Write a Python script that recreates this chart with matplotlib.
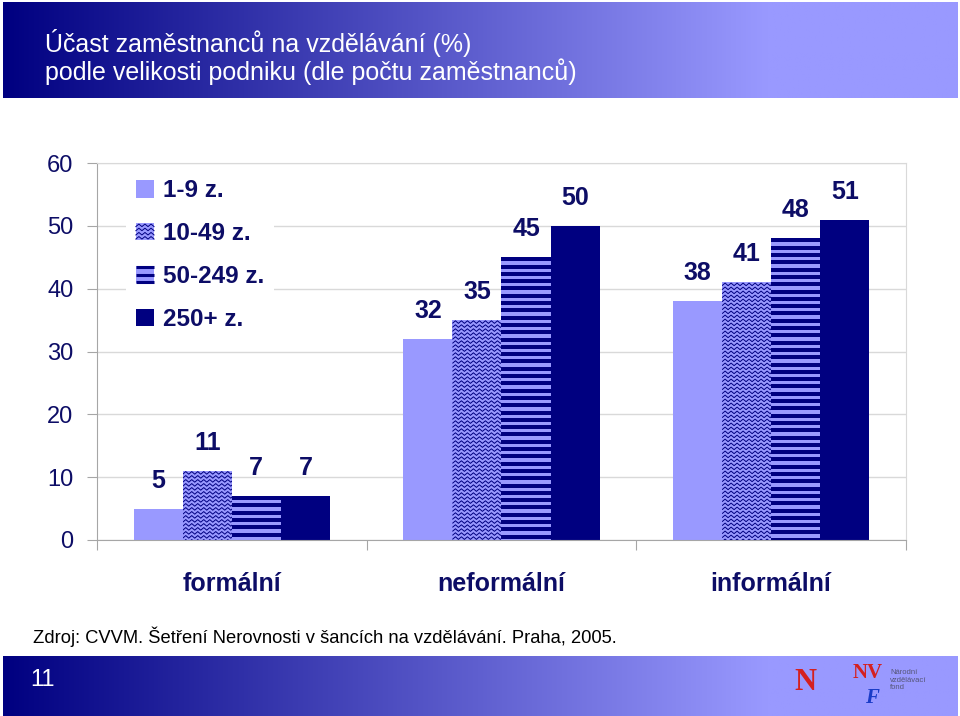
import numpy as np
import matplotlib
matplotlib.use("Agg")
import matplotlib.pyplot as plt
from matplotlib.collections import LineCollection
from matplotlib.patches import Rectangle, Patch
from matplotlib.legend_handler import HandlerBase

categories = ["formální", "neformální", "informální"]
sizes = ["1-9 z.", "10-49 z.", "50-249 z.", "250+ z."]
v_small = [5, 32, 38]
v_medium = [11, 35, 41]
v_large = [7, 45, 48]
v_xlarge = [7, 50, 51]
yticks = [0, 10, 20, 30, 40, 50, 60]

title_lines = ["Účast zaměstnanců na vzdělávání (%)",
               "podle velikosti podniku (dle počtu zaměstnanců)"]
source = "Zdroj: CVVM. Šetření Nerovnosti v šancích na vzdělávání. Praha, 2005."
page_no = "11"

NAVY = "#000080"
LIGHT = "#9999ff"
TEXT = "#0d0d66"
GRID = "#d9d9d9"
AXIS = "#a6a6a6"

narrow = ["Liberation Sans Narrow", "Liberation Sans", "DejaVu Sans"]
plt.rcParams["font.family"] = ["Liberation Sans", "DejaVu Sans"]

fig = plt.figure(figsize=(9.6, 7.16), dpi=100)


def gradient_band(rect):
    bax = fig.add_axes(rect)
    t = np.clip(np.linspace(0, 1, 400) / 0.8, 0, 1)
    c0 = np.array([0, 0, 128]) / 255
    c1 = np.array([153, 153, 255]) / 255
    row = c0[None, :] * (1 - t[:, None]) + c1[None, :] * t[:, None]
    bax.imshow(row[None, :, :], aspect="auto", extent=(0, 1, 0, 1))
    bax.set_xlim(0, 1)
    bax.set_ylim(0, 1)
    bax.set_axis_off()
    return bax


# header band with title
gradient_band([3 / 960, 1 - 98 / 716, 954 / 960, 96 / 716])
for line, ypx in zip(title_lines, [43, 72]):
    fig.text(45 / 960, 1 - ypx / 716, line, color="white", fontsize=18,
             va="center", ha="left")

# main chart
ax = fig.add_axes([97 / 960, 1 - 540 / 716, 809 / 960, 377 / 716])
ax.set_xlim(-0.5, len(categories) - 0.5)
ax.set_ylim(0, 60)
ax.set_axisbelow(True)
ax.yaxis.grid(True, color=GRID, linewidth=1)

sx = ax.bbox.width / len(categories)
sy = ax.bbox.height / 60


def add_stripes(bar, step_px=7.3, lw_px=4.0):
    x0, y0, w, h = bar.get_x(), bar.get_y(), bar.get_width(), bar.get_height()
    ys = np.arange(y0 + h - lw_px / 2 / sy, y0, -step_px / sy)
    lc = ax.hlines(ys, x0, x0 + w, colors=NAVY, linewidth=lw_px * 72 / fig.dpi, zorder=3)
    lc.set_clip_path(bar)


def add_waves(bar, row_px=4.0, period_px=6.0, amp_px=1.3):
    x0, y0, w, h = bar.get_x(), bar.get_y(), bar.get_width(), bar.get_height()
    xs = np.arange(x0, x0 + w + period_px / sx, period_px / 2 / sx)
    offs = amp_px / sy * np.where(np.arange(len(xs)) % 2 == 0, -1, 1)
    rows = np.arange(y0 + h - row_px / 2 / sy, y0 - row_px / sy, -row_px / sy)
    segs = [np.column_stack([xs, yc + offs]) for yc in rows]
    lc = LineCollection(segs, colors=NAVY, linewidths=0.7, zorder=3)
    ax.add_collection(lc)
    lc.set_clip_path(bar)


series = [v_small, v_medium, v_large, v_xlarge]
styles = ["plain", "waves", "stripes", "plain"]
faces = [LIGHT, LIGHT, LIGHT, NAVY]
x = np.arange(len(categories))
w = 0.182
for i, (vals, style, fc) in enumerate(zip(series, styles, faces)):
    bars = ax.bar(x + (i - 1.5) * w, vals, w, color=fc, edgecolor="none", zorder=2)
    for b, v in zip(bars, vals):
        if style == "stripes":
            add_stripes(b)
        elif style == "waves":
            add_waves(b)
        ax.annotate(str(v), (b.get_x() + b.get_width() / 2, v), xytext=(0, 21),
                    textcoords="offset pixels", ha="center", va="baseline",
                    fontsize=18, fontweight="bold", color=TEXT, family=narrow, zorder=4)

# axes styling
ax.set_yticks(yticks)
ax.set_yticklabels([str(t) for t in yticks], fontsize=17, color=TEXT, family=narrow)
ax.tick_params(axis="y", length=7, color=AXIS, pad=10)
ax.set_xticks(np.arange(len(categories) + 1) - 0.5)
ax.set_xticklabels([])
ax.tick_params(axis="x", which="major", length=7, color=AXIS)
ax.set_xticks(x, categories, minor=True)
ax.tick_params(axis="x", which="minor", length=0, pad=23)
for lbl in ax.get_xticklabels(minor=True):
    lbl.set_fontsize(18)
    lbl.set_fontweight("bold")
    lbl.set_color(TEXT)
    lbl.set_family(narrow)
ax.spines["left"].set_color(AXIS)
ax.spines["bottom"].set_color(AXIS)
ax.spines["top"].set_color(GRID)
ax.spines["right"].set_color(GRID)


# legend with drawn swatches
class SwatchHandler(HandlerBase):
    def __init__(self, kind):
        super().__init__()
        self.kind = kind

    def create_artists(self, legend, orig_handle, xdescent, ydescent, width, height,
                       fontsize, trans):
        x0, y0 = -xdescent, -ydescent
        arts = [Rectangle((x0, y0), width, height, facecolor=orig_handle.get_facecolor(),
                          edgecolor="none", transform=trans)]
        if self.kind == "stripes":
            for f in [0.1, 0.5, 0.9]:
                arts.append(plt.Line2D([x0, x0 + width], [y0 + f * height] * 2, color=NAVY,
                                       linewidth=2.2, solid_capstyle="butt", transform=trans))
        elif self.kind == "waves":
            xs = np.linspace(x0, x0 + width, 7)
            for f in [0.15, 0.38, 0.62, 0.85]:
                ys = y0 + f * height + height * 0.07 * np.where(np.arange(7) % 2 == 0, -1, 1)
                arts.append(plt.Line2D(xs, ys, color=NAVY, linewidth=0.7, transform=trans))
        return arts


handles = [Patch(facecolor=fc) for fc in faces]
leg = ax.legend(handles, sizes, loc="upper left", bbox_to_anchor=(0.036, 0.983),
                borderaxespad=0, frameon=True, fancybox=False, framealpha=1,
                edgecolor="none", facecolor="white", handlelength=0.75, handleheight=0.75,
                handletextpad=0.35, labelspacing=0.82,
                prop={"family": narrow, "size": 17.5, "weight": "bold"},
                handler_map={h: SwatchHandler(s) for h, s in zip(handles, styles)})
for t in leg.get_texts():
    t.set_color(TEXT)

# source note
fig.text(33 / 960, 1 - 637 / 716, source, fontsize=13.2, color="black", va="center")

# footer band
gradient_band([3 / 960, 0, 954 / 960, 60 / 716])
fig.text(42 / 960, 1 - 680 / 716, page_no, color="white", fontsize=17, ha="center", va="center")
fig.text(805 / 960, 1 - 682 / 716, "N", color="#d42020", fontsize=22, fontweight="bold",
         family="Liberation Serif", ha="center", va="center")
fig.text(868 / 960, 1 - 673 / 716, "NV", color="#d42020", fontsize=15, fontweight="bold",
         family="Liberation Serif", ha="center", va="center")
fig.text(872 / 960, 1 - 698 / 716, "F", color="#1a3cc8", fontsize=15, fontweight="bold",
         style="italic", family="Liberation Serif", ha="center", va="center")
fig.text(890 / 960, 1 - 680 / 716, "Národní\nvzdělávací\nfond", color="#555577",
         fontsize=5.5, va="center", ha="left", linespacing=1.1)

fig.savefig("out.png", dpi=100)
